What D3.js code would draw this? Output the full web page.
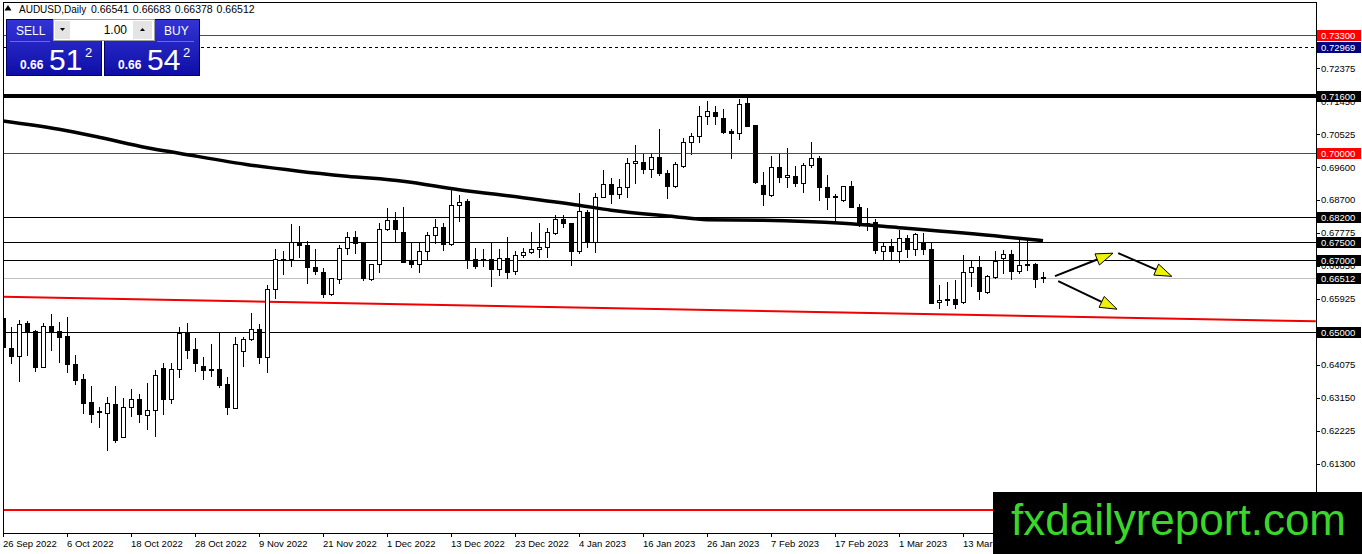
<!DOCTYPE html>
<html>
<head>
<meta charset="utf-8">
<title>AUDUSD, Daily</title>
<script src="https://cdn.jsdelivr.net/npm/d3@7"></script>
<style>
    body { margin: 0; background: #fff; }
    svg { display: block; font-family: "Liberation Sans", Arial, sans-serif; }
    .axis-label { font-size: 9.5px; fill: #000; }
</style>
</head>
<body>
<script>
    // daily bars, 26 Sep 2022 onwards (one value per bar)
    var openP = [
        0.6538, 0.6454, 0.6431, 0.6524, 0.6502, 0.6401, 0.6516, 0.6502, 0.6488, 0.6409,
        0.6367, 0.6303, 0.6277, 0.6272, 0.6297, 0.6205, 0.6289, 0.6311, 0.6266, 0.6280,
        0.6398, 0.6311, 0.6395, 0.6499, 0.6451, 0.6403, 0.6395, 0.6395, 0.6353, 0.6286,
        0.6445, 0.6479, 0.6507, 0.6429, 0.6619, 0.6703, 0.6703, 0.6751, 0.6742, 0.6681,
        0.6667, 0.6605, 0.6647, 0.6734, 0.6765, 0.6748, 0.6647, 0.6689, 0.6787, 0.6812,
        0.6779, 0.6698, 0.6689, 0.6726, 0.6770, 0.6793, 0.6745, 0.6854, 0.6866, 0.6703,
        0.6703, 0.6703, 0.6675, 0.6706, 0.6670, 0.6714, 0.6723, 0.6731, 0.6737, 0.6776,
        0.6815, 0.6804, 0.6726, 0.6835, 0.6751, 0.6877, 0.6913, 0.6885, 0.6905, 0.6972,
        0.6975, 0.6955, 0.6989, 0.6944, 0.6908, 0.6964, 0.7031, 0.7048, 0.7104, 0.7115,
        0.7098, 0.7062, 0.7056, 0.7140, 0.7079, 0.6910, 0.6883, 0.6961, 0.6933, 0.6936,
        0.6916, 0.6967, 0.6986, 0.6905, 0.6880, 0.6868, 0.6908, 0.6849, 0.6804, 0.6807,
        0.6726, 0.6740, 0.6726, 0.6762, 0.6731, 0.6748, 0.6731, 0.6583, 0.6591, 0.6591,
        0.6583, 0.6667, 0.6681, 0.6611, 0.6653, 0.6706, 0.6717, 0.6670, 0.6689, 0.6689,
        0.66541
    ];
    var highP = [
        0.6546, 0.6513, 0.6532, 0.6530, 0.6504, 0.6524, 0.6549, 0.6527, 0.6541, 0.6434,
        0.6381, 0.6347, 0.6289, 0.6317, 0.6347, 0.6314, 0.6339, 0.6325, 0.6356, 0.6392,
        0.6412, 0.6412, 0.6513, 0.6524, 0.6482, 0.6429, 0.6465, 0.6496, 0.6373, 0.6485,
        0.6485, 0.6552, 0.6521, 0.6630, 0.6731, 0.6726, 0.6801, 0.6796, 0.6754, 0.6731,
        0.6678, 0.6651, 0.6742, 0.6779, 0.6782, 0.6749, 0.6689, 0.6804, 0.6846, 0.6835,
        0.6849, 0.6748, 0.6748, 0.6779, 0.6815, 0.6804, 0.6896, 0.6882, 0.6871, 0.6734,
        0.6731, 0.6748, 0.6731, 0.6765, 0.6726, 0.6734, 0.6779, 0.6804, 0.6790, 0.6826,
        0.6826, 0.6805, 0.6888, 0.6840, 0.6888, 0.6952, 0.6930, 0.6927, 0.6986, 0.7023,
        0.7000, 0.7000, 0.7067, 0.6952, 0.6975, 0.7042, 0.7056, 0.7132, 0.7146, 0.7132,
        0.7123, 0.7067, 0.7151, 0.7160, 0.7080, 0.6947, 0.6992, 0.7000, 0.7014, 0.6964,
        0.6972, 0.7031, 0.6992, 0.6938, 0.6885, 0.6909, 0.6922, 0.6857, 0.6846, 0.6815,
        0.6748, 0.6759, 0.6784, 0.6770, 0.6776, 0.6776, 0.6748, 0.6630, 0.6639, 0.6644,
        0.6714, 0.6700, 0.6712, 0.6658, 0.6726, 0.6728, 0.6728, 0.6759, 0.6759, 0.6692,
        0.66683
    ];
    var lowP = [
        0.6434, 0.6412, 0.6361, 0.6434, 0.6389, 0.6400, 0.6448, 0.6415, 0.6387, 0.6353,
        0.6272, 0.6247, 0.6233, 0.6168, 0.6191, 0.6204, 0.6263, 0.6247, 0.6227, 0.6207,
        0.6269, 0.6300, 0.6373, 0.6426, 0.6389, 0.6367, 0.6375, 0.6345, 0.6269, 0.6285,
        0.6403, 0.6478, 0.6412, 0.6387, 0.6594, 0.6661, 0.6684, 0.6709, 0.6636, 0.6661,
        0.6597, 0.6604, 0.6636, 0.6717, 0.6720, 0.6644, 0.6644, 0.6667, 0.6784, 0.6751,
        0.6694, 0.6681, 0.6667, 0.6700, 0.6748, 0.6728, 0.6742, 0.6810, 0.6678, 0.6678,
        0.6684, 0.6628, 0.6658, 0.6650, 0.6661, 0.6709, 0.6720, 0.6709, 0.6709, 0.6775,
        0.6793, 0.6686, 0.6720, 0.6737, 0.6723, 0.6876, 0.6860, 0.6874, 0.6877, 0.6916,
        0.6944, 0.6933, 0.6938, 0.6874, 0.6905, 0.6961, 0.6997, 0.7031, 0.7081, 0.7081,
        0.7056, 0.6986, 0.7039, 0.7075, 0.6916, 0.6854, 0.6880, 0.6919, 0.6905, 0.6908,
        0.6891, 0.6961, 0.6868, 0.6843, 0.6807, 0.6867, 0.6848, 0.6796, 0.6784, 0.6720,
        0.6700, 0.6703, 0.6695, 0.6709, 0.6714, 0.6717, 0.6579, 0.6566, 0.6574, 0.6566,
        0.6580, 0.6628, 0.6591, 0.6608, 0.6650, 0.6664, 0.6647, 0.6664, 0.6672, 0.6625,
        0.66378
    ];
    var closeP = [
        0.6457, 0.6431, 0.6521, 0.6499, 0.6401, 0.6516, 0.6499, 0.6485, 0.6409, 0.6364,
        0.6300, 0.6269, 0.6275, 0.6300, 0.6196, 0.6289, 0.6311, 0.6269, 0.6280, 0.6378,
        0.6311, 0.6395, 0.6496, 0.6448, 0.6412, 0.6392, 0.6393, 0.6350, 0.6289, 0.6465,
        0.6479, 0.6507, 0.6429, 0.6619, 0.6703, 0.6702, 0.6751, 0.6742, 0.6681, 0.6670,
        0.6605, 0.6650, 0.6734, 0.6765, 0.6748, 0.6650, 0.6689, 0.6787, 0.6812, 0.6787,
        0.6695, 0.6689, 0.6726, 0.6770, 0.6793, 0.6745, 0.6854, 0.6863, 0.6700, 0.6684,
        0.6701, 0.6675, 0.6706, 0.6667, 0.6714, 0.6723, 0.6731, 0.6737, 0.6779, 0.6815,
        0.6804, 0.6726, 0.6838, 0.6751, 0.6877, 0.6913, 0.6885, 0.6905, 0.6972, 0.6978,
        0.6955, 0.6989, 0.6944, 0.6908, 0.6969, 0.7031, 0.7048, 0.7104, 0.7118, 0.7104,
        0.7059, 0.7056, 0.7137, 0.7076, 0.6919, 0.6885, 0.6961, 0.6933, 0.6938, 0.6916,
        0.6967, 0.6986, 0.6905, 0.6877, 0.6879, 0.6908, 0.6849, 0.6804, 0.6801, 0.6728,
        0.6740, 0.6726, 0.6762, 0.6731, 0.6773, 0.6731, 0.6581, 0.6588, 0.6588, 0.6577,
        0.6667, 0.6681, 0.6613, 0.6656, 0.6698, 0.6717, 0.6670, 0.6686, 0.6688, 0.6647,
        0.66512
    ];

    // moving average, read at some bars
    var maBar = [0, 7, 12, 18, 22, 31, 37, 43, 50, 57, 65, 72, 76, 84, 88, 95, 105, 112, 125, 130];
    var maVal = [0.70905, 0.70672, 0.70448, 0.70154, 0.70000, 0.69664, 0.69496, 0.69356, 0.69216, 0.68978,
                 0.68754, 0.68543, 0.68403, 0.68221, 0.68137, 0.68123, 0.68039, 0.67913, 0.67661, 0.67549];

    // red support trendline (bar, price)
    var trendBar = [0, 164.1];
    var trendVal = [0.6598, 0.6529];

    // horizontal levels
    var levelPrices = [0.73300, 0.72969, 0.71600, 0.70000, 0.68200, 0.67500, 0.67000, 0.66512, 0.65000, 0.60000];

    // arrows drawn after the last bar: [bar, price] start -> end
    var arrowFrom = [[131.5, 0.66555], [139.4, 0.67200], [131.9, 0.66415]];
    var arrowTo = [[138.75, 0.67199], [146.1, 0.66550], [139.25, 0.65630]];

    var priceTicks = [0.72375, 0.71450, 0.70525, 0.69600, 0.68700, 0.67775, 0.66850, 0.65925, 0.65000,
                      0.64075, 0.63150, 0.62225, 0.61300];
    var dateTickBars = [0, 8, 16, 24, 32, 40, 48, 56, 64, 72, 80, 88, 96, 104, 112, 120];
    var dateLabels = ['26 Sep 2022', '6 Oct 2022', '18 Oct 2022', '28 Oct 2022', '9 Nov 2022', '21 Nov 2022',
                      '1 Dec 2022', '13 Dec 2022', '23 Dec 2022', '4 Jan 2023', '16 Jan 2023', '26 Jan 2023',
                      '7 Feb 2023', '17 Feb 2023', '1 Mar 2023', '13 Mar 2023'];

    var titleQuote = ['0.66541', '0.66683', '0.66378', '0.66512'];

    var width = 1362, height = 554;
    var plotL = 3, plotR = 1316, plotT = 2, plotB = 533;

    var x = d3.scaleLinear().domain([0, 164.125]).range([plotL, plotR]);
    var y = d3.scaleLinear().domain([0.5939, 0.7429]).range([532, 0]);
    var fmt = d3.format('.5f');

    var svg = d3.select('body').append('svg').attr('width', width).attr('height', height);

    var defs = svg.append('defs');
    defs.append('clipPath').attr('id', 'plot')
        .append('rect').attr('x', plotL + 0.5).attr('y', plotT).attr('width', plotR - plotL).attr('height', plotB - plotT);
    var grad = defs.append('linearGradient').attr('id', 'blue').attr('x1', 0).attr('y1', 0).attr('x2', 0).attr('y2', 1);
    grad.append('stop').attr('offset', '0%').attr('stop-color', '#3434d6');
    grad.append('stop').attr('offset', '100%').attr('stop-color', '#0e0ea6');

    var plot = svg.append('g').attr('clip-path', 'url(#plot)');

    // level lines
    var levelStyle = [
        { stroke: '#ff0000', w: 1, dash: null, box: '#ff0000', label: true },
        { stroke: '#000', w: 1, dash: '3,3', box: '#000080', label: true },
        { stroke: '#000', w: 4, dash: null, box: '#000', label: true },
        { stroke: '#ff0000', w: 1, dash: null, box: '#ff0000', label: true },
        { stroke: '#000', w: 1, dash: null, box: '#000', label: true },
        { stroke: '#000', w: 1, dash: null, box: '#000', label: true },
        { stroke: '#000', w: 1, dash: null, box: '#000', label: true },
        { stroke: '#c0c0c0', w: 1, dash: null, box: '#000', label: true },
        { stroke: '#000', w: 1, dash: null, box: '#000', label: true },
        { stroke: '#ff0000', w: 2, dash: null, box: '#ff0000', label: false }
    ];
    plot.selectAll('.level').data(levelPrices).enter().append('line')
        .attr('class', 'level')
        .attr('x1', plotL).attr('x2', plotR)
        .attr('y1', (d, i) => Math.round(y(d)) + (levelStyle[i].w % 2 ? 0.5 : 0))
        .attr('y2', (d, i) => Math.round(y(d)) + (levelStyle[i].w % 2 ? 0.5 : 0))
        .attr('stroke', (d, i) => levelStyle[i].stroke)
        .attr('stroke-width', (d, i) => levelStyle[i].w)
        .attr('stroke-dasharray', (d, i) => levelStyle[i].dash);

    // trendline
    plot.append('line')
        .attr('x1', x(trendBar[0])).attr('y1', y(trendVal[0]))
        .attr('x2', x(trendBar[1])).attr('y2', y(trendVal[1]))
        .attr('stroke', '#f00000').attr('stroke-width', 2);

    // candles
    var cx = i => Math.round(x(i));
    var bars = plot.selectAll('.bar').data(d3.range(closeP.length)).enter().append('g').attr('class', 'bar');
    bars.append('line')
        .attr('x1', i => cx(i) + 0.5).attr('x2', i => cx(i) + 0.5)
        .attr('y1', i => Math.round(y(highP[i]))).attr('y2', i => Math.round(y(lowP[i])) + 1)
        .attr('stroke', '#000').attr('stroke-width', 1);
    bars.append('rect')
        .each(function (i) {
            var top = Math.round(y(Math.max(openP[i], closeP[i])));
            var bot = Math.round(y(Math.min(openP[i], closeP[i])));
            var up = closeP[i] > openP[i];
            var r = d3.select(this);
            if (up) {
                r.attr('x', cx(i) - 1.5).attr('y', top + 0.5).attr('width', 4).attr('height', Math.max(bot - top, 1))
                    .attr('fill', '#fff').attr('stroke', '#000').attr('stroke-width', 1);
            } else {
                r.attr('x', cx(i) - 2).attr('y', top).attr('width', 5).attr('height', Math.max(bot - top, 1) + 1)
                    .attr('fill', '#000');
            }
        });

    // moving average
    var maLine = d3.line().x(d => x(d[0])).y(d => y(d[1])).curve(d3.curveMonotoneX);
    plot.append('path')
        .datum(maBar.map((b, i) => [b, maVal[i]]))
        .attr('d', maLine)
        .attr('fill', 'none').attr('stroke', '#000').attr('stroke-width', 3.5);

    // arrows
    arrowFrom.forEach(function (a, k) {
        var x1 = x(a[0]), y1 = y(a[1]), x2 = x(arrowTo[k][0]), y2 = y(arrowTo[k][1]);
        var ang = Math.atan2(y2 - y1, x2 - x1);
        var len = 17, half = 6;
        var bx = x2 - len * Math.cos(ang), by = y2 - len * Math.sin(ang);
        plot.append('line').attr('x1', x1).attr('y1', y1).attr('x2', bx).attr('y2', by)
            .attr('stroke', '#000').attr('stroke-width', 2);
        var px = -Math.sin(ang) * half, py = Math.cos(ang) * half;
        plot.append('path')
            .attr('d', 'M' + x2 + ',' + y2 + 'L' + (bx + px) + ',' + (by + py) + 'L' + (bx - px) + ',' + (by - py) + 'Z')
            .attr('fill', '#eef20a').attr('stroke', '#000').attr('stroke-width', 1);
    });

    // frame
    svg.append('rect').attr('x', plotL + 0.5).attr('y', plotT + 0.5)
        .attr('width', plotR - plotL).attr('height', plotB - plotT)
        .attr('fill', 'none').attr('stroke', '#000').attr('stroke-width', 1);

    // price axis
    var pAxis = svg.append('g');
    pAxis.selectAll('.pt').data(priceTicks).enter().append('line')
        .attr('x1', plotR + 0.5).attr('x2', plotR + 4)
        .attr('y1', d => Math.round(y(d)) + 0.5).attr('y2', d => Math.round(y(d)) + 0.5)
        .attr('stroke', '#000');
    pAxis.selectAll('.pl').data(priceTicks).enter().append('text')
        .attr('class', 'axis-label')
        .attr('x', plotR + 5).attr('y', d => y(d) + 3.5)
        .text(fmt);

    var labelled = levelPrices.filter((d, i) => levelStyle[i].label);
    var boxes = pAxis.selectAll('.lb').data(labelled).enter().append('g');
    boxes.append('rect')
        .attr('x', plotR + 1).attr('y', d => Math.round(y(d)) - 5)
        .attr('width', 44).attr('height', 11)
        .attr('fill', (d, i) => levelStyle[i].box);
    boxes.append('text')
        .attr('class', 'axis-label')
        .attr('x', plotR + 5).attr('y', d => Math.round(y(d)) + 4)
        .style('fill', '#fff')
        .text(fmt);

    // time axis
    var tAxis = svg.append('g');
    tAxis.selectAll('.tt').data(dateTickBars).enter().append('line')
        .attr('x1', i => cx(i) + 0.5).attr('x2', i => cx(i) + 0.5)
        .attr('y1', plotB).attr('y2', plotB + 4)
        .attr('stroke', '#000');
    tAxis.selectAll('.tl').data(dateTickBars).enter().append('text')
        .attr('class', 'axis-label')
        .attr('x', i => cx(i)).attr('y', 547)
        .text((d, k) => dateLabels[k]);

    // title
    svg.append('path').attr('d', 'M4.5,10.5L8,5L11.5,10.5Z').attr('fill', '#000');
    svg.append('text').attr('x', 19).attr('y', 13).style('font-size', '10px').text('AUDUSD,Daily');
    svg.append('text').attr('x', 91).attr('y', 13).style('font-size', '10.5px').style('word-spacing', '1px')
        .text(titleQuote.join(' '));

    // one-click trading panel
    var panel = svg.append('g');
    [[6, 'SELL', '51', 16], [104, 'BUY', '54', 164]].forEach(function (b) {
        var bx = b[0];
        panel.append('rect').attr('x', bx + 0.5).attr('y', 19.5).attr('width', 95).attr('height', 56)
            .attr('fill', 'url(#blue)').attr('stroke', '#00006e');
        panel.append('text').attr('x', b[3]).attr('y', 35).attr('fill', '#fff')
            .style('font-size', '12px').text(b[1]);
        panel.append('text').attr('x', bx + 14).attr('y', 69).attr('fill', '#fff')
            .style('font-size', '12px').style('font-weight', 'bold').text('0.66');
        panel.append('text').attr('x', bx + 43).attr('y', 70).attr('fill', '#fff')
            .style('font-size', '30px').text(b[2]);
        panel.append('text').attr('x', bx + 79).attr('y', 57).attr('fill', '#fff')
            .style('font-size', '13px').text('2');
    });
    panel.append('line').attr('x1', 10).attr('x2', 50).attr('y1', 41.5).attr('y2', 41.5).attr('stroke', '#6a6ae0');
    panel.append('line').attr('x1', 157).attr('x2', 194).attr('y1', 41.5).attr('y2', 41.5).attr('stroke', '#6a6ae0');
    panel.append('rect').attr('x', 53.5).attr('y', 19.5).attr('width', 101).attr('height', 21)
        .attr('fill', '#fff').attr('stroke', '#a0a0a0');
    panel.append('rect').attr('x', 55).attr('y', 21).attr('width', 15).attr('height', 18).attr('fill', '#e4e4e4');
    panel.append('rect').attr('x', 133).attr('y', 21).attr('width', 19).attr('height', 18).attr('fill', '#e4e4e4');
    panel.append('path').attr('d', 'M60,28L65,28L62.5,31Z').attr('fill', '#000');
    panel.append('path').attr('d', 'M140,31L145,31L142.5,28Z').attr('fill', '#000');
    panel.append('text').attr('x', 127).attr('y', 34).attr('text-anchor', 'end')
        .style('font-size', '12px').text('1.00');

    // watermark
    svg.append('rect').attr('x', 993).attr('y', 492).attr('width', 369).attr('height', 62).attr('fill', '#000');
    svg.append('text').attr('x', 1011).attr('y', 535).attr('fill', '#3bd62c')
        .style('font-size', '44px').text('fxdailyreport.com');
</script>
</body>
</html>
